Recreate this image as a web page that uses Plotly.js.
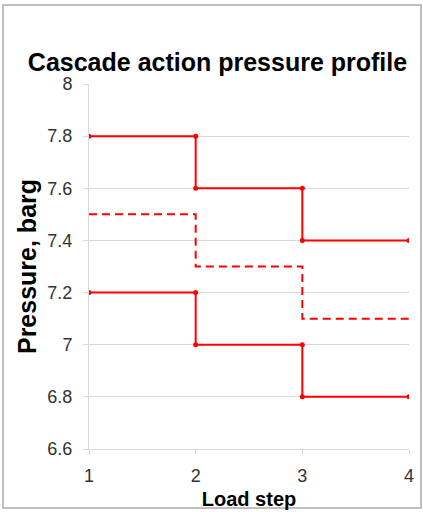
<!DOCTYPE html>
<html>
<head>
<meta charset="utf-8">
<script src="https://cdn.plot.ly/plotly-3.0.1.min.js"></script>
<style>
  html, body { margin: 0; padding: 0; background: #fff; }
  #chart { width: 423px; height: 512px; }
</style>
</head>
<body>
<div id="chart"></div>
<script>
// Data
const upperX = [1, 2, 2, 3, 3, 4];
const upperY = [7.8, 7.8, 7.6, 7.6, 7.4, 7.4];
const setX = [1, 2, 2, 3, 3, 4];
const setY = [7.5, 7.5, 7.3, 7.3, 7.1, 7.1];
const lowerX = [1, 2, 2, 3, 3, 4];
const lowerY = [7.2, 7.2, 7.0, 7.0, 6.8, 6.8];
const xTicks = [1, 2, 3, 4];
const yTicks = [6.6, 6.8, 7, 7.2, 7.4, 7.6, 7.8, 8];
const yTickLabels = ['6.6', '6.8', '7', '7.2', '7.4', '7.6', '7.8', '8'];

const red = '#ff0000';
const font = 'Arial, "Liberation Sans", sans-serif';

const traces = [
  { x: upperX, y: upperY, mode: 'lines+markers', line: { color: red, width: 2 }, marker: { color: red, size: 5 }, showlegend: false, hoverinfo: 'skip' },
  { x: setX, y: setY, mode: 'lines', line: { color: red, width: 2, dash: '8px,5px' }, showlegend: false, hoverinfo: 'skip' },
  { x: lowerX, y: lowerY, mode: 'lines+markers', line: { color: red, width: 2 }, marker: { color: red, size: 5 }, showlegend: false, hoverinfo: 'skip' }
];

const gridC = '#d9d9d9';
const layout = {
  width: 423, height: 512,
  margin: { l: 89, r: 14, t: 84, b: 63, pad: 0 },
  paper_bgcolor: '#ffffff', plot_bgcolor: '#ffffff',
  font: { family: font, color: '#333333' },
  title: {
    text: '<b>Cascade action pressure profile</b>',
    font: { family: font, size: 25, color: '#000000' },
    xref: 'paper', x: 0.4016, xanchor: 'center',
    yref: 'container', y: 1 - 62 / 512, yanchor: 'middle'
  },
  xaxis: {
    range: [1, 4], tickvals: xTicks, ticktext: xTicks.map(String),
    showgrid: false, zeroline: false,
    showline: true, linecolor: gridC, linewidth: 1,
    ticks: 'outside', ticklen: 5, tickcolor: gridC, tickwidth: 1,
    ticklabelstandoff: 5,
    tickfont: { family: font, size: 18, color: '#333333' },
    title: { text: '<b>Load step</b>', font: { family: font, size: 20, color: '#000000' }, standoff: 7 },
    fixedrange: true
  },
  yaxis: {
    range: [6.6, 8], tickvals: yTicks, ticktext: yTickLabels,
    showgrid: true, gridcolor: gridC, gridwidth: 1, zeroline: false,
    showline: true, linecolor: gridC, linewidth: 1,
    ticks: 'outside', ticklen: 5, tickcolor: gridC, tickwidth: 1,
    ticklabelstandoff: 7,
    tickfont: { family: font, size: 18, color: '#333333' },
    title: { text: '<b>Pressure, barg</b>', font: { family: font, size: 25, color: '#000000' }, standoff: 3 },
    fixedrange: true
  },
  shapes: [{
    type: 'rect', xref: 'paper', yref: 'paper',
    x0: (3 - 89) / 320, x1: (421 - 89) / 320,
    y0: (449 - 508) / 365, y1: (449 - 5) / 365,
    line: { color: '#bfbfbf', width: 2 }, fillcolor: 'rgba(0,0,0,0)', layer: 'below'
  }]
};

Plotly.newPlot('chart', traces, layout, { staticPlot: true, displayModeBar: false });
</script>
</body>
</html>
